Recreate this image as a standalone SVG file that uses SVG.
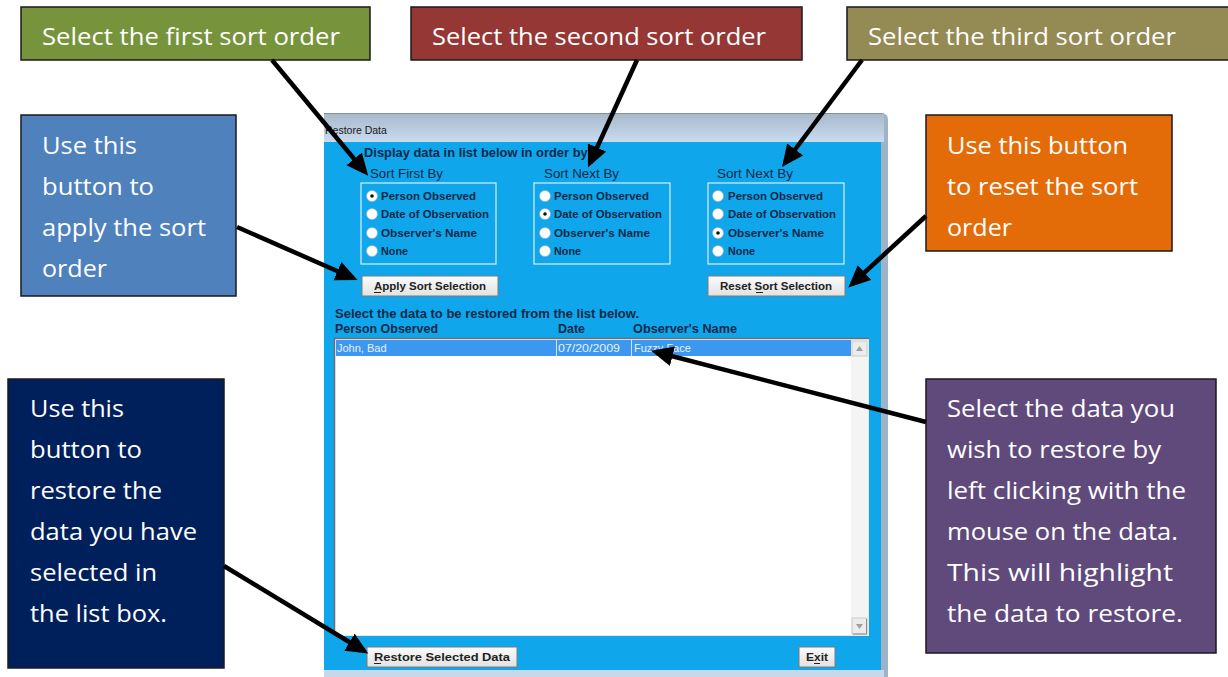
<svg xmlns="http://www.w3.org/2000/svg" width="1228" height="677" viewBox="0 0 1228 677">
  <style>
    .callout { stroke: #1a1a1a; stroke-width: 1.5; }
    .ctext { font-family: "Open Sans", "Noto Sans", "Liberation Sans", sans-serif; font-size: 24px; fill: #ffffff; }
    .dlg { font-family: "Liberation Sans", Arial, sans-serif; fill: #0b2a48; }
    .b { font-weight: bold; }
    .opt { font-family: "Liberation Sans", Arial, sans-serif; font-size: 11px; font-weight: bold; fill: #0b2a48; }
    .grp { fill: none; stroke: #d8eef9; stroke-width: 1.2; }
    .radio { fill: #ffffff; stroke: #9ab; stroke-width: 0.6; }
    .dot { fill: #111; }
    .btn { fill: url(#btnGrad); stroke: #7a7a7a; stroke-width: 1; }
    .btnText { font-family: "Liberation Sans", Arial, sans-serif; font-size: 11px; font-weight: bold; fill: #222; text-anchor: middle; }
    .ul { stroke: #222; stroke-width: 1; }
    .row { font-family: "Liberation Sans", Arial, sans-serif; font-size: 11px; fill: #e8f2ff; }
    .conn { stroke: #000; stroke-width: 4.5; fill: none; marker-end: url(#arrow); }
  </style>
  <defs>
    <marker id="arrow" markerUnits="userSpaceOnUse" markerWidth="26" markerHeight="22" refX="17" refY="10" orient="auto">
      <path d="M0,0 L22,10 L0,20 z" fill="#000"/>
    </marker>
    <linearGradient id="titleGrad" x1="0" y1="0" x2="0" y2="1">
      <stop offset="0" stop-color="#a7b8cb"/>
      <stop offset="1" stop-color="#c9dbee"/>
    </linearGradient>
    <linearGradient id="frameGrad" x1="0" y1="0" x2="1" y2="0">
      <stop offset="0" stop-color="#c4d6ea"/>
      <stop offset="1" stop-color="#9fb3c8"/>
    </linearGradient>
    <linearGradient id="btnGrad" x1="0" y1="0" x2="0" y2="1">
      <stop offset="0" stop-color="#fbfbfb"/>
      <stop offset="1" stop-color="#e2e2e2"/>
    </linearGradient>
  </defs>

  <rect width="1228" height="677" fill="#ffffff"/>

  <!-- dialog window -->
  <g id="dialog">
    <path d="M324,113 H881 Q888,113 888,120 V677 H324 Z" fill="url(#frameGrad)"/>
    <rect x="324" y="113" width="560" height="29" fill="url(#titleGrad)"/>
    <line x1="324" y1="113.5" x2="882" y2="113.5" stroke="#8090a0" stroke-width="1"/>
    <text x="325" y="134" font-family="Liberation Sans, Arial, sans-serif" font-size="10.5" fill="#1a1a1a">Restore Data</text>
    <rect x="324" y="142" width="557" height="528" fill="#10a6ec"/>
    <rect x="324" y="670" width="560" height="7" fill="#c6d8ea"/>

    <text class="dlg b" x="364" y="157" font-size="12" textLength="228" lengthAdjust="spacingAndGlyphs">Display data in list below in order by:</text>

    <!-- first sort group -->
    <text class="dlg" x="370" y="178" font-size="12" textLength="73" lengthAdjust="spacingAndGlyphs">Sort First By</text>
    <rect class="grp" x="361" y="183" width="135" height="81"/>
    <circle class="radio" cx="372" cy="196" r="5.5"/><circle class="dot" cx="372" cy="196" r="1.8"/>
    <circle class="radio" cx="372" cy="214" r="5.5"/>
    <circle class="radio" cx="372" cy="233" r="5.5"/>
    <circle class="radio" cx="372" cy="251" r="5.5"/>
    <text class="opt" x="381" y="200" textLength="95" lengthAdjust="spacingAndGlyphs">Person Observed</text>
    <text class="opt" x="381" y="218" textLength="108" lengthAdjust="spacingAndGlyphs">Date of Observation</text>
    <text class="opt" x="381" y="237" textLength="96" lengthAdjust="spacingAndGlyphs">Observer's Name</text>
    <text class="opt" x="381" y="255" textLength="27" lengthAdjust="spacingAndGlyphs">None</text>

    <!-- second sort group -->
    <text class="dlg" x="544" y="178" font-size="12" textLength="75" lengthAdjust="spacingAndGlyphs">Sort Next By</text>
    <rect class="grp" x="534" y="183" width="136" height="81"/>
    <circle class="radio" cx="545" cy="196" r="5.5"/>
    <circle class="radio" cx="545" cy="214" r="5.5"/><circle class="dot" cx="545" cy="214" r="1.8"/>
    <circle class="radio" cx="545" cy="233" r="5.5"/>
    <circle class="radio" cx="545" cy="251" r="5.5"/>
    <text class="opt" x="554" y="200" textLength="95" lengthAdjust="spacingAndGlyphs">Person Observed</text>
    <text class="opt" x="554" y="218" textLength="108" lengthAdjust="spacingAndGlyphs">Date of Observation</text>
    <text class="opt" x="554" y="237" textLength="96" lengthAdjust="spacingAndGlyphs">Observer's Name</text>
    <text class="opt" x="554" y="255" textLength="27" lengthAdjust="spacingAndGlyphs">None</text>

    <!-- third sort group -->
    <text class="dlg" x="717" y="178" font-size="12" textLength="76" lengthAdjust="spacingAndGlyphs">Sort Next By</text>
    <rect class="grp" x="708" y="183" width="136" height="81"/>
    <circle class="radio" cx="718" cy="196" r="5.5"/>
    <circle class="radio" cx="718" cy="214" r="5.5"/>
    <circle class="radio" cx="718" cy="233" r="5.5"/><circle class="dot" cx="718" cy="233" r="1.8"/>
    <circle class="radio" cx="718" cy="251" r="5.5"/>
    <text class="opt" x="728" y="200" textLength="95" lengthAdjust="spacingAndGlyphs">Person Observed</text>
    <text class="opt" x="728" y="218" textLength="108" lengthAdjust="spacingAndGlyphs">Date of Observation</text>
    <text class="opt" x="728" y="237" textLength="96" lengthAdjust="spacingAndGlyphs">Observer's Name</text>
    <text class="opt" x="728" y="255" textLength="27" lengthAdjust="spacingAndGlyphs">None</text>

    <!-- sort buttons -->
    <rect class="btn" x="362" y="276" width="136" height="20"/>
    <text class="btnText" x="430" y="290" textLength="112" lengthAdjust="spacingAndGlyphs">Apply Sort Selection</text>
    <line class="ul" x1="374" y1="292.5" x2="381" y2="292.5"/>
    <rect class="btn" x="708" y="276" width="137" height="20"/>
    <text class="btnText" x="776" y="290" textLength="112" lengthAdjust="spacingAndGlyphs">Reset Sort Selection</text>
    <line class="ul" x1="756" y1="292.5" x2="763" y2="292.5"/>

    <!-- list area -->
    <text class="dlg b" x="335" y="318" font-size="12" textLength="304" lengthAdjust="spacingAndGlyphs">Select the data to be restored from the list below.</text>
    <text class="dlg b" x="335" y="333" font-size="12" textLength="103" lengthAdjust="spacingAndGlyphs">Person Observed</text>
    <text class="dlg b" x="558" y="333" font-size="12" textLength="27" lengthAdjust="spacingAndGlyphs">Date</text>
    <text class="dlg b" x="633" y="333" font-size="12" textLength="104" lengthAdjust="spacingAndGlyphs">Observer's Name</text>

    <rect x="334" y="338" width="535" height="298" fill="#ffffff"/>
    <path d="M334.5,636 V338.5 H869" fill="none" stroke="#6d6d6d" stroke-width="1.5"/>
    <path d="M868.5,339 V635.5 H335" fill="none" stroke="#e6e6e6" stroke-width="1"/>
    <rect x="336" y="340" width="515" height="16" fill="#3c97f0"/>
    <line x1="556.5" y1="340" x2="556.5" y2="356" stroke="#d0e4fa" stroke-width="1"/>
    <line x1="631.5" y1="340" x2="631.5" y2="356" stroke="#d0e4fa" stroke-width="1"/>
    <text class="row" x="337" y="352">John, Bad</text>
    <text class="row" x="558" y="352" textLength="62" lengthAdjust="spacingAndGlyphs">07/20/2009</text>
    <text class="row" x="634" y="352">Fuzzy Face</text>
    <!-- scrollbar -->
    <rect x="851" y="340" width="17" height="295" fill="#f4f4f4"/>
    <rect x="852" y="341" width="15" height="15" fill="#ececec" stroke="#c4c4c4" stroke-width="0.8"/>
    <path d="M856,351 L859.5,346 L863,351 z" fill="#a0a0a0"/>
    <rect x="852" y="618" width="15" height="16" fill="#ececec" stroke="#c4c4c4" stroke-width="0.8"/>
    <path d="M856,624 L859.5,629 L863,624 z" fill="#a0a0a0"/>
    <path d="M866.5,619 V634 H853" fill="none" stroke="#8a8a8a" stroke-width="1"/>

    <!-- bottom buttons -->
    <rect class="btn" x="367" y="647" width="150" height="20"/>
    <text class="btnText" x="442" y="661" textLength="136" lengthAdjust="spacingAndGlyphs">Restore Selected Data</text>
    <line class="ul" x1="374" y1="663.5" x2="381" y2="663.5"/>
    <rect class="btn" x="799" y="647" width="36" height="20"/>
    <text class="btnText" x="817" y="661" textLength="22" lengthAdjust="spacingAndGlyphs">Exit</text>
    <line class="ul" x1="814" y1="663.5" x2="820" y2="663.5"/>
  </g>

  <!-- callouts -->
  <g id="callout-first">
    <rect class="callout" x="21" y="7" width="349" height="53" fill="#77933c"/>
    <text class="ctext" x="42" y="45" textLength="298" lengthAdjust="spacingAndGlyphs">Select the first sort order</text>
  </g>
  <g id="callout-second">
    <rect class="callout" x="411" y="7" width="391" height="53" fill="#953735"/>
    <text class="ctext" x="432" y="45" textLength="334" lengthAdjust="spacingAndGlyphs">Select the second sort order</text>
  </g>
  <g id="callout-third">
    <rect class="callout" x="847" y="7" width="384" height="53" fill="#948a54"/>
    <text class="ctext" x="868" y="45" textLength="308" lengthAdjust="spacingAndGlyphs">Select the third sort order</text>
  </g>
  <g id="callout-apply">
    <rect class="callout" x="21" y="115" width="215" height="181" fill="#4f81bd"/>
    <text class="ctext" x="42" y="154" textLength="95" lengthAdjust="spacingAndGlyphs">Use this</text>
    <text class="ctext" x="42" y="195" textLength="112" lengthAdjust="spacingAndGlyphs">button to</text>
    <text class="ctext" x="42" y="236" textLength="164" lengthAdjust="spacingAndGlyphs">apply the sort</text>
    <text class="ctext" x="42" y="277" textLength="65" lengthAdjust="spacingAndGlyphs">order</text>
  </g>
  <g id="callout-reset">
    <rect class="callout" x="926" y="115" width="246" height="136" fill="#e36c09"/>
    <text class="ctext" x="947" y="154" textLength="181" lengthAdjust="spacingAndGlyphs">Use this button</text>
    <text class="ctext" x="947" y="195" textLength="191" lengthAdjust="spacingAndGlyphs">to reset the sort</text>
    <text class="ctext" x="947" y="236" textLength="65" lengthAdjust="spacingAndGlyphs">order</text>
  </g>
  <g id="callout-restore">
    <rect class="callout" x="8" y="379" width="216" height="289" fill="#00205b"/>
    <text class="ctext" x="30" y="417" textLength="94" lengthAdjust="spacingAndGlyphs">Use this</text>
    <text class="ctext" x="30" y="458" textLength="112" lengthAdjust="spacingAndGlyphs">button to</text>
    <text class="ctext" x="30" y="499" textLength="132" lengthAdjust="spacingAndGlyphs">restore the</text>
    <text class="ctext" x="30" y="540" textLength="167" lengthAdjust="spacingAndGlyphs">data you have</text>
    <text class="ctext" x="30" y="581" textLength="127" lengthAdjust="spacingAndGlyphs">selected in</text>
    <text class="ctext" x="30" y="622" textLength="137" lengthAdjust="spacingAndGlyphs">the list box.</text>
  </g>
  <g id="callout-select">
    <rect class="callout" x="926" y="379" width="290" height="274" fill="#604a7b"/>
    <text class="ctext" x="947" y="417" textLength="228" lengthAdjust="spacingAndGlyphs">Select the data you</text>
    <text class="ctext" x="947" y="458" textLength="214" lengthAdjust="spacingAndGlyphs">wish to restore by</text>
    <text class="ctext" x="947" y="499" textLength="239" lengthAdjust="spacingAndGlyphs">left clicking with the</text>
    <text class="ctext" x="947" y="540" textLength="231" lengthAdjust="spacingAndGlyphs">mouse on the data.</text>
    <text class="ctext" x="947" y="581" textLength="226" lengthAdjust="spacingAndGlyphs">This will highlight</text>
    <text class="ctext" x="947" y="622" textLength="236" lengthAdjust="spacingAndGlyphs">the data to restore.</text>
  </g>

  <!-- connectors -->
  <g id="connectors">
    <line class="conn" x1="272" y1="60" x2="365" y2="172"/>
    <line class="conn" x1="637" y1="60" x2="590" y2="163"/>
    <line class="conn" x1="862" y1="60" x2="785" y2="163"/>
    <line class="conn" x1="237" y1="227" x2="353" y2="278"/>
    <line class="conn" x1="926" y1="216" x2="852" y2="284"/>
    <line class="conn" x1="224" y1="566" x2="364" y2="651"/>
    <line class="conn" x1="926" y1="422" x2="656" y2="352"/>
  </g>
</svg>
